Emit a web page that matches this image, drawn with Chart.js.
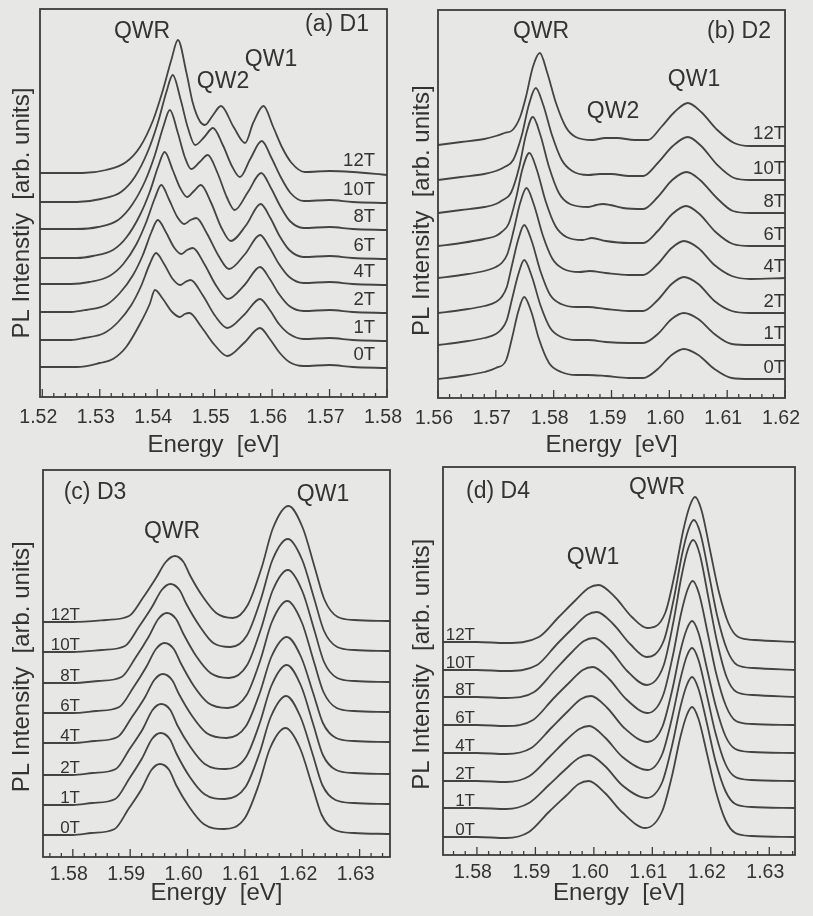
<!DOCTYPE html>
<html>
<head>
<meta charset="utf-8">
<script src="https://cdn.jsdelivr.net/npm/chart.js@4.4.1/dist/chart.umd.min.js"></script>
<style>
  body { margin: 0; width: 813px; height: 916px; overflow: hidden; position: relative; background: #e7e7e5; }
  canvas { position: absolute; }
</style>
</head>
<body>
<canvas id="pa" width="420" height="462" style="left:0;top:0"></canvas>
<canvas id="pb" width="413" height="462" style="left:400px;top:0"></canvas>
<canvas id="pc" width="420" height="458" style="left:0;top:458px"></canvas>
<canvas id="pd" width="413" height="458" style="left:400px;top:458px"></canvas>
<script>
const fields = ['0T', '1T', '2T', '4T', '6T', '8T', '10T', '12T'];

// (a) D1  -- [energy eV, intensity above trace baseline]
const ticksA = [1.52, 1.53, 1.54, 1.55, 1.56, 1.57, 1.58];
const offA = [30, 57, 85, 113, 139, 168, 195, 224];
const A0 = [[1.5196,0],[1.526,0],[1.53,4],[1.5323,8],[1.5346,20],[1.537,43],[1.5387,63],[1.5396,77],[1.541,68],[1.5426,55],[1.544,50],[1.5448,53],[1.5456,54],[1.5477,40],[1.55,22],[1.5522,11],[1.5551,24],[1.5579,39],[1.5596,28],[1.5612,15],[1.563,5],[1.5655,1],[1.57,2],[1.574,0],[1.58,-1]];
const A1 = [[1.5196,0],[1.525,0],[1.5273,2],[1.5308,7],[1.5332,18],[1.5355,35],[1.5372,54],[1.5387,76],[1.5398,87],[1.5412,76],[1.5427,61],[1.544,55],[1.5449,58],[1.5458,60],[1.5479,45],[1.5501,24],[1.5522,12],[1.5551,25],[1.5579,41],[1.5596,30],[1.5612,16],[1.563,6],[1.5655,1],[1.57,2],[1.574,0],[1.58,-1]];
const A2 = [[1.5196,0],[1.525,0],[1.5276,2],[1.5311,7],[1.5335,19],[1.5358,37],[1.5375,57],[1.539,80],[1.5401,92],[1.5415,80],[1.543,64],[1.5442,58],[1.5452,62],[1.5462,64],[1.5482,48],[1.5503,26],[1.5523,13],[1.5552,27],[1.5579,45],[1.5596,33],[1.5612,18],[1.563,6],[1.5655,1],[1.57,2],[1.574,0],[1.58,-1]];
const A4 = [[1.5196,0],[1.525,0],[1.5282,2],[1.5317,8],[1.5341,20],[1.5364,40],[1.5381,62],[1.5396,86],[1.5407,99],[1.5421,84],[1.5435,67],[1.5447,60],[1.5458,64],[1.5468,66],[1.5487,50],[1.5507,28],[1.5525,15],[1.5553,30],[1.5579,49],[1.5596,36],[1.5612,20],[1.563,7],[1.5655,1],[1.57,2],[1.574,0],[1.58,-1]];
const A6 = [[1.5196,0],[1.526,0],[1.5288,2],[1.5323,8],[1.5347,21],[1.537,43],[1.5387,66],[1.5402,92],[1.5413,106],[1.5427,88],[1.544,70],[1.5452,61],[1.5464,67],[1.5476,73],[1.5494,55],[1.5512,30],[1.5528,17],[1.5555,33],[1.558,54],[1.5597,40],[1.5613,22],[1.563,8],[1.5655,1],[1.57,2],[1.574,0],[1.58,-1]];
const A8 = [[1.5196,0],[1.526,0],[1.5297,2],[1.5332,9],[1.5356,24],[1.5379,48],[1.5396,74],[1.5411,103],[1.5422,119],[1.5436,96],[1.5448,72],[1.5459,60],[1.5474,67],[1.5488,74],[1.5505,56],[1.5521,32],[1.5535,19],[1.5558,37],[1.5581,56],[1.5598,41],[1.5614,23],[1.5631,8],[1.5655,1],[1.57,2],[1.574,0],[1.58,-1]];
const A10 = [[1.5196,0],[1.526,0],[1.5302,3],[1.5337,10],[1.5361,25],[1.5384,51],[1.5401,79],[1.5416,110],[1.5427,127],[1.5441,102],[1.5453,75],[1.5466,57],[1.5482,65],[1.5497,74],[1.5515,56],[1.553,36],[1.5544,25],[1.5562,43],[1.5582,61],[1.5599,44],[1.5615,25],[1.5632,9],[1.5655,1],[1.57,2],[1.574,0],[1.58,-1]];
const A12 = [[1.5196,0],[1.527,0],[1.5311,3],[1.5346,11],[1.537,26],[1.5393,53],[1.541,83],[1.5425,114],[1.5436,133],[1.5451,100],[1.5462,70],[1.5474,52],[1.5483,48],[1.5496,57],[1.5511,67],[1.5533,46],[1.5553,30],[1.5567,50],[1.5585,67],[1.5602,46],[1.5617,26],[1.5634,10],[1.5657,1],[1.57,2],[1.574,1],[1.58,-2]];

// (b) D2
const ticksB = [1.56, 1.57, 1.58, 1.59, 1.60, 1.61, 1.62];
const offB = [19, 53, 85, 120, 152, 185, 218, 253];
const B0 = [[1.56,0],[1.564,3],[1.568,7],[1.57,11],[1.5718,19],[1.5728,41],[1.5739,68],[1.5749,82],[1.5762,66],[1.5774,41],[1.5792,16],[1.5813,7],[1.584,4],[1.586,4],[1.589,3],[1.593,1],[1.5955,1],[1.598,10],[1.6004,24],[1.6025,30],[1.605,24],[1.6078,10],[1.6108,1],[1.614,0],[1.62,0]];
const B1 = [[1.56,0],[1.564,3],[1.568,7],[1.57,11],[1.571,16],[1.5719,25],[1.5728,46],[1.5739,71],[1.5749,85],[1.5762,69],[1.5777,40],[1.5794,17],[1.5813,8],[1.584,5],[1.586,5],[1.589,3],[1.593,2],[1.5955,2],[1.598,11],[1.6004,26],[1.6025,32],[1.605,26],[1.6078,11],[1.6108,1],[1.614,0],[1.62,0]];
const B2 = [[1.56,0],[1.564,3],[1.568,7],[1.57,11],[1.571,16],[1.5719,26],[1.5728,48],[1.5739,74],[1.5749,88],[1.5762,72],[1.5777,42],[1.5794,18],[1.5813,9],[1.584,6],[1.586,6],[1.589,4],[1.593,2],[1.5955,2],[1.598,13],[1.6004,29],[1.6025,36],[1.605,29],[1.6078,12],[1.6108,2],[1.614,0],[1.62,0]];
const B4 = [[1.56,0],[1.564,3],[1.568,7],[1.57,11],[1.571,15],[1.572,24],[1.5731,48],[1.5742,75],[1.5753,90],[1.5766,73],[1.5781,43],[1.5798,19],[1.5817,9],[1.5845,6],[1.5862,7],[1.589,5],[1.593,3],[1.5955,3],[1.598,14],[1.6004,30],[1.6025,37],[1.605,30],[1.6078,13],[1.6108,2],[1.614,-1],[1.62,0]];
const B6 = [[1.56,0],[1.564,3],[1.568,7],[1.57,10],[1.571,14],[1.5722,22],[1.5735,48],[1.5746,77],[1.5758,93],[1.5771,76],[1.5786,45],[1.5803,20],[1.5822,9],[1.585,6],[1.5866,8],[1.589,5],[1.593,3],[1.5955,3],[1.598,15],[1.6005,32],[1.6029,40],[1.6052,32],[1.608,14],[1.611,2],[1.614,0],[1.62,0]];
const B8 = [[1.56,0],[1.564,3],[1.568,6],[1.57,9],[1.5712,13],[1.5726,20],[1.574,45],[1.5752,78],[1.5764,96],[1.5777,78],[1.5792,46],[1.5809,20],[1.5828,9],[1.586,6],[1.5874,8],[1.5885,9],[1.5898,8],[1.592,5],[1.5955,4],[1.598,16],[1.6005,33],[1.603,41],[1.6053,33],[1.6082,15],[1.611,2],[1.614,0],[1.62,0]];
const B10 = [[1.56,0],[1.564,3],[1.568,6],[1.57,9],[1.5715,13],[1.573,20],[1.5745,45],[1.5757,75],[1.5769,92],[1.5782,75],[1.5797,45],[1.5814,20],[1.5832,9],[1.586,5],[1.588,6],[1.59,6],[1.593,4],[1.5955,4],[1.598,17],[1.6006,34],[1.6032,43],[1.6055,34],[1.6083,15],[1.6112,2],[1.614,0],[1.62,0]];
const B12 = [[1.56,0],[1.564,3],[1.568,6],[1.57,9],[1.5715,12],[1.5729,15],[1.5742,28],[1.5752,48],[1.5764,78],[1.5776,92],[1.5789,72],[1.5804,42],[1.5821,18],[1.5838,8],[1.5867,5],[1.5889,7],[1.591,7],[1.594,5],[1.5963,5],[1.5986,18],[1.6009,33],[1.6032,42],[1.6055,33],[1.6083,15],[1.6112,2],[1.614,-1],[1.62,-1]];

// (c) D3
const ticksC = [1.58, 1.59, 1.60, 1.61, 1.62, 1.63];
const offC = [22, 52, 82, 114, 144, 174, 205, 235];
const C0 = [[1.5748,0],[1.58,0],[1.5833,2],[1.5873,6],[1.5897,26],[1.592,46],[1.5937,65],[1.5952,71],[1.5968,65],[1.598,50],[1.6003,28],[1.6028,11],[1.6064,6],[1.61,17],[1.6124,50],[1.6144,87],[1.6171,107],[1.6196,87],[1.6217,50],[1.6234,20],[1.6257,5],[1.629,2],[1.6353,1]];
const C1 = [[1.5748,0],[1.58,0],[1.5834,2],[1.5874,6],[1.5898,26],[1.5921,47],[1.5938,66],[1.5953,72],[1.5969,66],[1.5981,51],[1.6004,28],[1.6029,11],[1.6065,6],[1.6101,18],[1.6125,51],[1.6145,88],[1.6172,109],[1.6197,88],[1.6218,51],[1.6235,20],[1.6258,5],[1.629,2],[1.6353,1]];
const C2 = [[1.5748,0],[1.58,0],[1.5835,2],[1.5875,6],[1.5899,26],[1.5922,46],[1.5939,65],[1.5954,71],[1.597,65],[1.5982,50],[1.6005,28],[1.603,11],[1.6066,6],[1.6102,18],[1.6126,52],[1.6146,89],[1.6173,110],[1.6198,89],[1.6219,51],[1.6236,20],[1.6259,5],[1.629,2],[1.6353,1]];
const C4 = [[1.5748,0],[1.58,0],[1.5838,2],[1.5878,6],[1.5902,25],[1.5925,45],[1.5942,63],[1.5957,69],[1.5973,63],[1.5985,49],[1.6008,27],[1.6033,10],[1.6068,5],[1.6102,17],[1.6126,50],[1.6146,86],[1.6173,106],[1.6198,86],[1.6219,50],[1.6236,20],[1.6259,5],[1.629,2],[1.6353,1]];
const C6 = [[1.5748,0],[1.58,0],[1.5841,2],[1.5881,6],[1.5905,25],[1.5928,46],[1.5945,64],[1.596,70],[1.5976,64],[1.5988,50],[1.6011,27],[1.6036,10],[1.607,5],[1.6103,18],[1.6127,53],[1.6147,91],[1.6174,112],[1.6199,91],[1.622,52],[1.6237,21],[1.626,5],[1.629,2],[1.6353,1]];
const C8 = [[1.5748,0],[1.58,0],[1.5845,2],[1.5885,6],[1.5909,25],[1.5932,46],[1.5949,64],[1.5964,70],[1.598,64],[1.5992,50],[1.6015,27],[1.604,10],[1.6072,5],[1.6104,18],[1.6128,54],[1.6148,92],[1.6175,113],[1.62,92],[1.6221,53],[1.6238,21],[1.6261,5],[1.6291,2],[1.6353,1]];
const C10 = [[1.5748,0],[1.58,0],[1.5851,2],[1.5891,6],[1.5915,25],[1.5938,45],[1.5955,62],[1.597,68],[1.5986,62],[1.5998,48],[1.6021,26],[1.6045,9],[1.6075,5],[1.6104,17],[1.6128,53],[1.6148,92],[1.6175,113],[1.62,92],[1.6221,53],[1.6238,21],[1.6261,5],[1.6291,2],[1.6353,1]];
const C12 = [[1.5748,0],[1.58,0],[1.5858,2],[1.5898,6],[1.5922,24],[1.5945,44],[1.5962,60],[1.5978,66],[1.5993,60],[1.6004,47],[1.6027,25],[1.605,9],[1.6079,4],[1.6105,17],[1.6129,54],[1.6149,94],[1.6176,116],[1.6201,94],[1.6222,54],[1.6239,22],[1.6262,5],[1.6291,2],[1.6353,1]];

// (d) D4
const ticksD = [1.58, 1.59, 1.60, 1.61, 1.62, 1.63];
const offD = [18, 47, 74, 102, 130, 158, 185, 213];
const D0 = [[1.5742,0],[1.58,0],[1.585,-1],[1.5889,5],[1.5923,25],[1.5952,41],[1.5974,53],[1.5991,56],[1.6019,44],[1.6048,25],[1.6088,9],[1.6117,26],[1.6134,62],[1.6148,100],[1.6159,122],[1.6168,130],[1.6179,118],[1.6194,82],[1.6208,47],[1.6225,17],[1.6242,4],[1.627,1],[1.6344,0]];
const D1 = [[1.5742,0],[1.58,0],[1.585,-1],[1.5889,5],[1.5923,23],[1.5952,39],[1.5974,50],[1.5991,53],[1.6019,42],[1.6048,23],[1.609,10],[1.6117,26],[1.6134,63],[1.6148,101],[1.6159,123],[1.6168,131],[1.6179,119],[1.6194,83],[1.6208,47],[1.6225,17],[1.6242,4],[1.627,1],[1.6344,0]];
const D2 = [[1.5742,0],[1.58,0],[1.585,-1],[1.589,5],[1.5924,24],[1.5953,41],[1.5975,52],[1.5992,55],[1.602,43],[1.6049,24],[1.6092,11],[1.6117,27],[1.6134,64],[1.6148,102],[1.6159,125],[1.6168,133],[1.6179,121],[1.6194,84],[1.6208,48],[1.6225,17],[1.6242,4],[1.627,1],[1.6344,0]];
const D4 = [[1.5742,0],[1.58,0],[1.585,-1],[1.5893,5],[1.5927,25],[1.5956,42],[1.5978,54],[1.5995,57],[1.6023,45],[1.6052,25],[1.6092,11],[1.6117,26],[1.6134,63],[1.6148,102],[1.6159,124],[1.6168,132],[1.6179,120],[1.6194,83],[1.6208,48],[1.6225,17],[1.6242,4],[1.627,1],[1.6344,0]];
const D6 = [[1.5742,0],[1.58,0],[1.585,-1],[1.5896,5],[1.593,26],[1.5959,43],[1.5981,55],[1.5998,58],[1.6026,46],[1.6055,26],[1.6092,12],[1.6118,29],[1.6135,69],[1.6149,111],[1.616,135],[1.6169,144],[1.618,131],[1.6195,91],[1.6209,52],[1.6226,19],[1.6243,4],[1.6271,1],[1.6344,0]];
const D8 = [[1.5742,0],[1.58,0],[1.585,-1],[1.5898,5],[1.5932,26],[1.5961,44],[1.5983,56],[1.6,59],[1.6028,47],[1.6057,26],[1.609,12],[1.6119,31],[1.6136,75],[1.615,121],[1.6161,148],[1.617,157],[1.6181,143],[1.6196,99],[1.621,57],[1.6227,20],[1.6244,5],[1.6272,2],[1.6344,0]];
const D10 = [[1.5742,0],[1.58,0],[1.585,-1],[1.5903,5],[1.5937,26],[1.5966,43],[1.5988,55],[1.6005,58],[1.6033,46],[1.6062,26],[1.609,13],[1.612,30],[1.6137,72],[1.6151,116],[1.6162,141],[1.6171,150],[1.6182,137],[1.6197,95],[1.6211,54],[1.6228,20],[1.6245,5],[1.6273,2],[1.6344,0]];
const D12 = [[1.5742,0],[1.58,0],[1.585,-1],[1.5906,5],[1.594,25],[1.5969,42],[1.5991,54],[1.6008,57],[1.6036,45],[1.6065,25],[1.6091,14],[1.6122,29],[1.6139,70],[1.6153,112],[1.6164,136],[1.6173,145],[1.6184,132],[1.6199,91],[1.6213,52],[1.623,19],[1.6247,5],[1.6275,2],[1.6344,0]];

const ink = '#333333';
const lineInk = '#444444';
const family = '"Liberation Sans", Arial, sans-serif';

// box, inward ticks on the energy axis, field labels and peak names
function framePlugin(cfg) {
  return {
    id: 'frame',
    afterDraw(chart) {
      const ctx = chart.ctx, a = chart.chartArea;
      const xs = chart.scales.x, ys = chart.scales.y;
      ctx.save();
      ctx.strokeStyle = '#3c3c3c';
      ctx.lineWidth = 1.8;
      ctx.strokeRect(a.left, a.top, a.right - a.left, a.bottom - a.top);
      ctx.lineWidth = 1.3;
      const k0 = Math.ceil(xs.min * 500 - 1e-6), k1 = Math.floor(xs.max * 500 + 1e-6);
      for (let k = k0; k <= k1; k++) {
        const px = xs.getPixelForValue(k / 500);
        const len = k % 5 === 0 ? 8 : 4;
        ctx.beginPath();
        ctx.moveTo(px, a.bottom);
        ctx.lineTo(px, a.bottom - len);
        ctx.stroke();
      }
      ctx.fillStyle = ink;
      ctx.textBaseline = 'middle';
      ctx.textAlign = 'right';
      ctx.font = cfg.labSize + 'px ' + family;
      fields.forEach((f, i) => {
        ctx.fillText(f, cfg.labX, ys.getPixelForValue(cfg.off[i]) + cfg.labDy);
      });
      ctx.textAlign = 'center';
      ctx.font = '23px ' + family;
      cfg.notes.forEach(n => ctx.fillText(n[0], n[1], n[2]));
      ctx.restore();
    }
  };
}

function panel(id, cfg) {
  const datasets = cfg.curves.map((c, i) => ({
    label: fields[i],
    data: c.map(p => ({ x: p[0], y: p[1] + cfg.off[i] })),
    borderColor: lineInk,
    borderWidth: 1.8,
    pointRadius: 0,
    fill: false,
    cubicInterpolationMode: 'monotone'
  }));
  new Chart(document.getElementById(id), {
    type: 'line',
    data: { datasets },
    options: {
      responsive: false,
      animation: false,
      events: [],
      layout: { padding: { top: cfg.padTop, right: cfg.padRight, left: 0, bottom: 0 } },
      plugins: { legend: { display: false }, tooltip: { enabled: false } },
      scales: {
        x: {
          type: 'linear', min: cfg.xmin, max: cfg.xmax,
          afterBuildTicks: s => { s.ticks = cfg.ticks.map(v => ({ value: v })); },
          afterFit: s => { s.height = cfg.axisH; },
          grid: { display: false, drawTicks: false },
          border: { display: false },
          ticks: {
            autoSkip: false, maxRotation: 0, padding: cfg.tickPad, labelOffset: -4,
            color: ink, font: { family, size: 19.5 },
            callback: v => v.toFixed(2)
          },
          title: {
            display: true, text: 'Energy  [eV]', color: ink,
            font: { family, size: 24 }, padding: { top: 0, bottom: cfg.titlePad }
          }
        },
        y: {
          min: 0, max: cfg.ymax,
          afterFit: s => { s.width = cfg.axisW; },
          ticks: { display: false },
          grid: { display: false },
          border: { display: false },
          title: {
            display: true, text: cfg.ytitle, color: ink,
            font: { family, size: 24 }, padding: { top: 8, bottom: 0 }
          }
        }
      }
    },
    plugins: [framePlugin(cfg)]
  });
}

panel('pa', {
  curves: [A0, A1, A2, A4, A6, A8, A10, A12], off: offA, ticks: ticksA,
  xmin: 1.5196, xmax: 1.58, ymax: 388,
  padTop: 9, padRight: 33, axisW: 40, axisH: 65, tickPad: 9, titlePad: 2,
  ytitle: 'PL Intenstiy  [arb. units]   ',
  labX: 375, labDy: -12, labSize: 18.5,
  notes: [['QWR', 142, 32], ['(a) D1', 337, 25], ['QW1', 271, 60], ['QW2', 223, 82]]
});
panel('pb', {
  curves: [B0, B1, B2, B4, B6, B8, B10, B12], off: offB, ticks: ticksB,
  xmin: 1.56, xmax: 1.62, ymax: 388,
  padTop: 10, padRight: 26, axisW: 38, axisH: 64, tickPad: 9, titlePad: 2,
  ytitle: 'PL Intensity  [arb. units]  ',
  labX: 385, labDy: -11, labSize: 18.5,
  notes: [['QWR', 141, 32], ['(b) D2', 339, 32], ['QW1', 294, 80], ['QW2', 213, 112]]
});
panel('pc', {
  curves: [C0, C1, C2, C4, C6, C8, C10, C12], off: offC, ticks: ticksC,
  xmin: 1.5748, xmax: 1.6353, ymax: 387,
  padTop: 12, padRight: 30, axisW: 43, axisH: 59, tickPad: 6, titlePad: 8,
  ytitle: 'PL Intensity  [arb. units] ',
  labX: 80, labDy: -7, labSize: 17,
  notes: [['(c) D3', 95, 35], ['QW1', 323, 37], ['QWR', 172, 74]]
});
panel('pd', {
  curves: [D0, D1, D2, D4, D6, D8, D10, D12], off: offD, ticks: ticksD,
  xmin: 1.5742, xmax: 1.6344, ymax: 388,
  padTop: 9, padRight: 18, axisW: 43, axisH: 61, tickPad: 6, titlePad: 8,
  ytitle: 'PL Intensity  [arb. units] ',
  labX: 75, labDy: -7, labSize: 17,
  notes: [['(d) D4', 98, 34], ['QWR', 257, 30], ['QW1', 193, 100]]
});
</script>
</body>
</html>
